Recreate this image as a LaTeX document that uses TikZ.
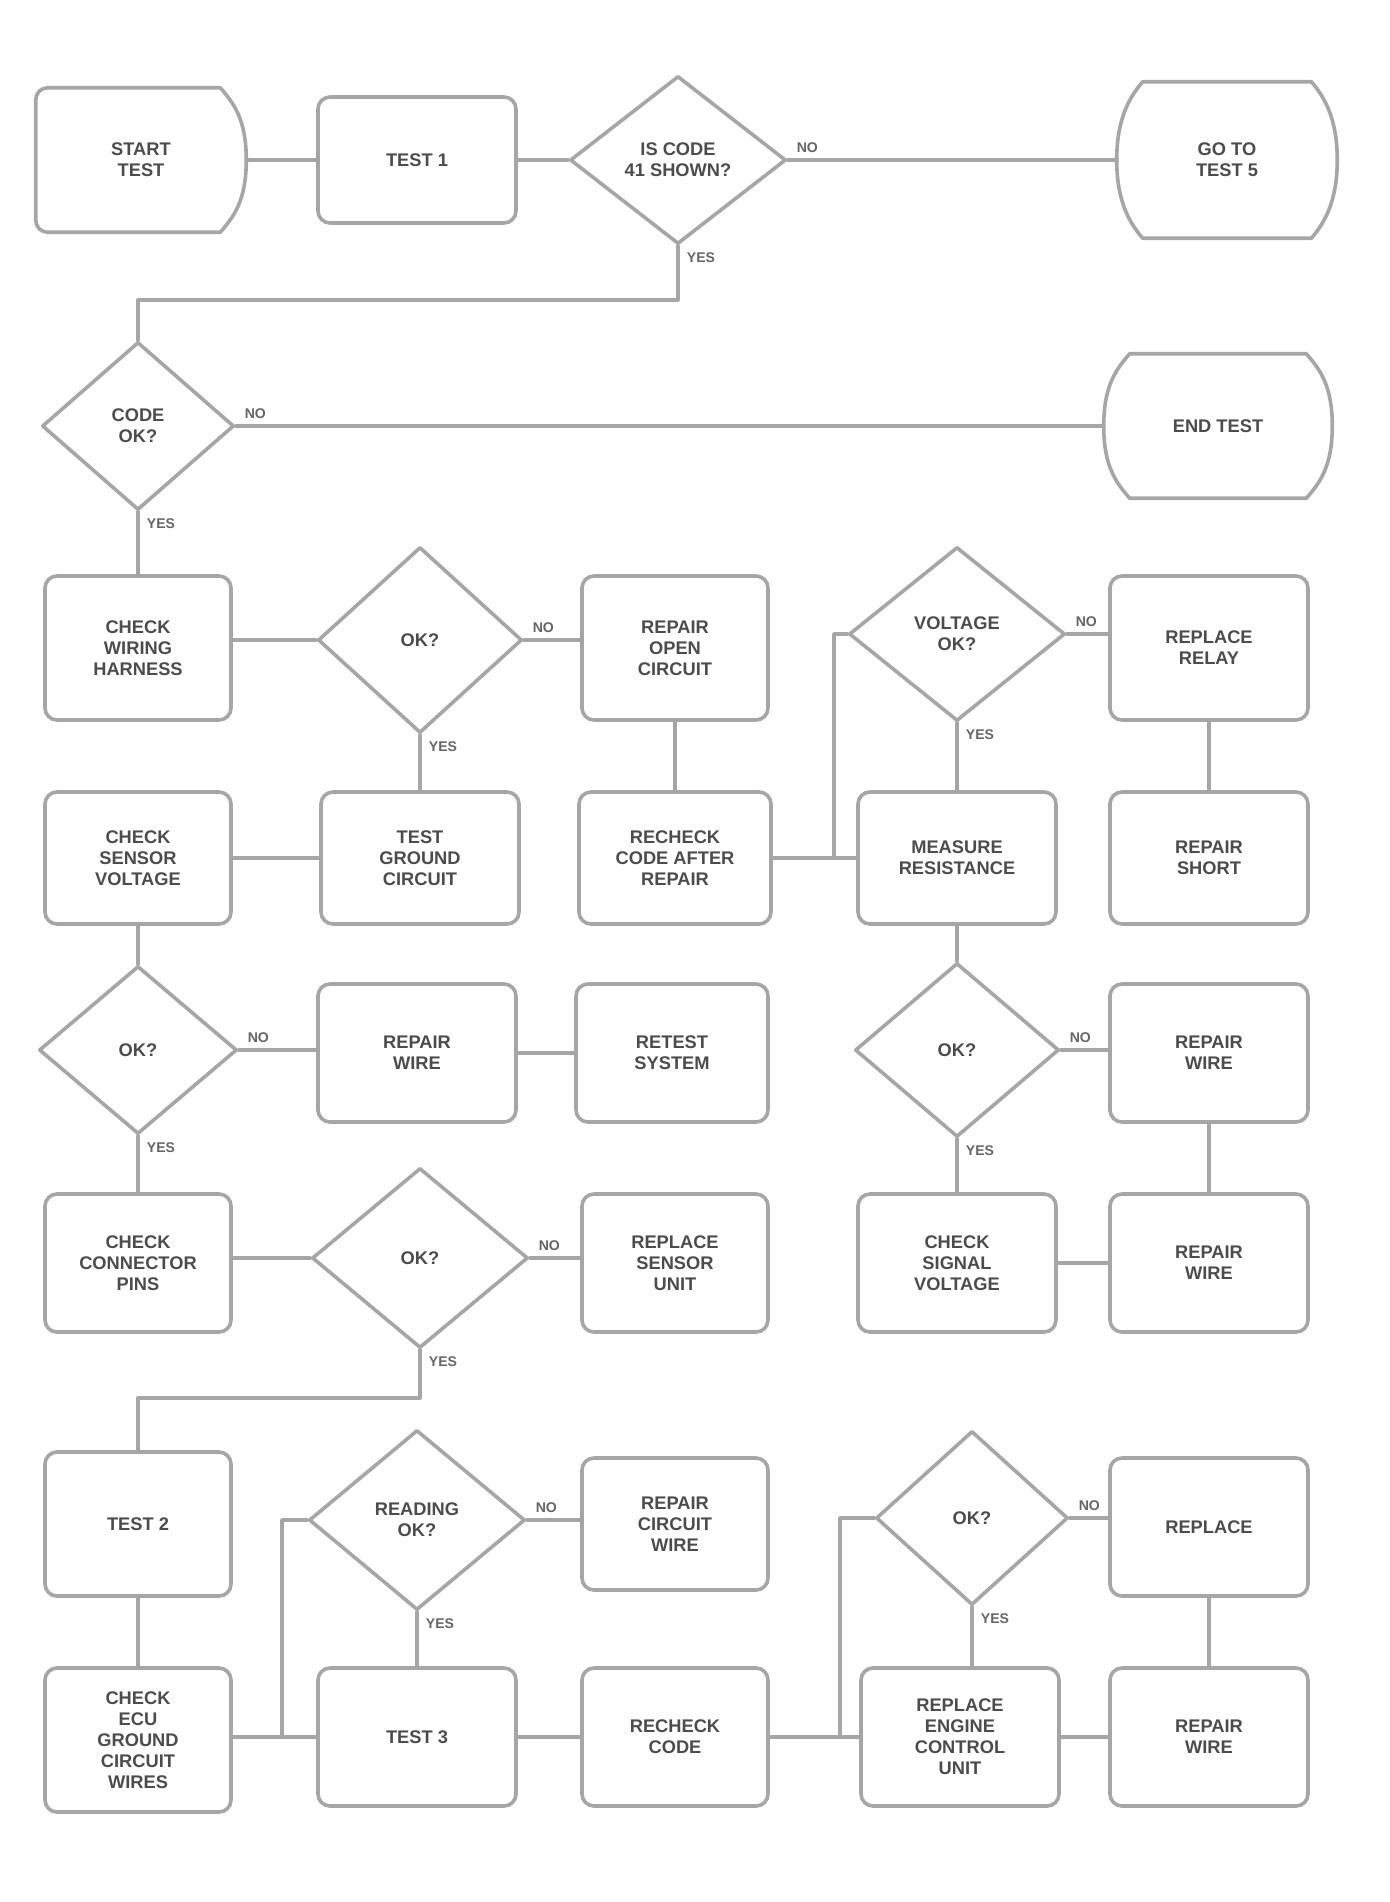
\documentclass[tikz,border=0pt]{standalone}
\usepackage{fontspec}
\setmainfont{Liberation Sans}
\usetikzlibrary{shapes.geometric,calc}
\begin{document}
\begin{tikzpicture}[x=0.025cm,y=-0.025cm,
  ln/.style={draw=black!35, line width=0.9mm, line join=round, line cap=round},
  txt/.style={text=black!70, align=center, font=\bfseries\fontsize{13}{15}\selectfont},
  rbox/.style 2 args={ln, txt, rounded corners=3mm, minimum width=#1*0.025cm, minimum height=#2*0.025cm, inner sep=2pt},
  dmd/.style 2 args={ln, txt, diamond, minimum width=#1*0.025cm, minimum height=#2*0.025cm, inner sep=0pt},
  term/.style 2 args={txt, minimum width=#1*0.025cm, minimum height=#2*0.025cm, inner sep=2pt},
  lbl/.style={text=black!60, font=\bfseries\fontsize{10}{12}\selectfont}]
\useasboundingbox (0,0) rectangle (1389,1902);

% ---- row 1
\node[term={210}{144}] (A) at (141,160) {START\\TEST};
\node[rbox={198}{126}] (B) at (417,160) {TEST 1};
\node[dmd={216}{168}] (D1) at (678,160) {IS CODE\\41 SHOWN?};
\node[term={220}{156}] (T1) at (1227,160) {GO TO\\TEST 5};
% ---- row 2
\node[dmd={192}{168}] (D2) at (138,426) {CODE\\OK?};
\node[term={228}{144}] (T2) at (1218,426) {END TEST};
% ---- row 3
\node[rbox={186}{144}] (R3a) at (138,648) {CHECK\\WIRING\\HARNESS};
\node[dmd={204}{186}] (D3a) at (420,640) {OK?};
\node[rbox={186}{144}] (R3b) at (675,648) {REPAIR\\OPEN\\CIRCUIT};
\node[dmd={216}{174}] (D3b) at (957,634) {VOLTAGE\\OK?};
\node[rbox={198}{144}] (R3c) at (1209,648) {REPLACE\\RELAY};
% ---- row 4
\node[rbox={186}{132}] (R4a) at (138,858) {CHECK\\SENSOR\\VOLTAGE};
\node[rbox={198}{132}] (R4b) at (420,858) {TEST\\GROUND\\CIRCUIT};
\node[rbox={192}{132}] (R4c) at (675,858) {RECHECK\\CODE AFTER\\REPAIR};
\node[rbox={198}{132}] (R4d) at (957,858) {MEASURE\\RESISTANCE};
\node[rbox={198}{132}] (R4e) at (1209,858) {REPAIR\\SHORT};
% ---- row 5
\node[dmd={198}{168}] (D5a) at (138,1050) {OK?};
\node[rbox={198}{138}] (R5b) at (417,1053) {REPAIR\\WIRE};
\node[rbox={192}{138}] (R5c) at (672,1053) {RETEST\\SYSTEM};
\node[dmd={204}{174}] (D5d) at (957,1050) {OK?};
\node[rbox={198}{138}] (R5e) at (1209,1053) {REPAIR\\WIRE};
% ---- row 6
\node[rbox={186}{138}] (R6a) at (138,1263) {CHECK\\CONNECTOR\\PINS};
\node[dmd={216}{180}] (D6b) at (420,1258) {OK?};
\node[rbox={186}{138}] (R6c) at (675,1263) {REPLACE\\SENSOR\\UNIT};
\node[rbox={198}{138}] (R6d) at (957,1263) {CHECK\\SIGNAL\\VOLTAGE};
\node[rbox={198}{138}] (R6e) at (1209,1263) {REPAIR\\WIRE};
% ---- row 7
\node[rbox={186}{144}] (R7a) at (138,1524) {TEST 2};
\node[dmd={216}{180}] (D7b) at (417,1520) {READING\\OK?};
\node[rbox={186}{132}] (R7c) at (675,1524) {REPAIR\\CIRCUIT\\WIRE};
\node[dmd={192}{174}] (D7d) at (972,1518) {OK?};
\node[rbox={198}{138}] (R7e) at (1209,1527) {REPLACE};
% ---- row 8
\node[rbox={186}{144}] (R8a) at (138,1740) {CHECK\\ECU\\GROUND\\CIRCUIT\\WIRES};
\node[rbox={198}{138}] (R8b) at (417,1737) {TEST 3};
\node[rbox={186}{138}] (R8c) at (675,1737) {RECHECK\\CODE};
\node[rbox={198}{138}] (R8d) at (960,1737) {REPLACE\\ENGINE\\CONTROL\\UNIT};
\node[rbox={198}{138}] (R8e) at (1209,1737) {REPAIR\\WIRE};

% junction points
\coordinate (j1) at (834,858);
\coordinate (j2) at (282,1737);
\coordinate (j3) at (840,1737);

% terminal outlines
\draw[ln] ($(A.north west)+(12,0)$) -- ($(A.north east)+(-26,0)$)
   .. controls +(14,16) and +(0,-40) .. (A.east)
   .. controls +(0,40) and +(14,-16) .. ($(A.south east)+(-26,0)$)
   -- ($(A.south west)+(12,0)$) arc[start angle=90, end angle=180, radius=12]
   -- ($(A.north west)+(0,12)$) arc[start angle=180, end angle=270, radius=12] -- cycle;
\foreach \t in {T1,T2}{
\draw[ln] ($(\t.north west)+(26,0)$) -- ($(\t.north east)+(-26,0)$)
   .. controls +(14,16) and +(0,-40) .. (\t.east)
   .. controls +(0,40) and +(14,-16) .. ($(\t.south east)+(-26,0)$)
   -- ($(\t.south west)+(26,0)$)
   .. controls +(-14,-16) and +(0,40) .. (\t.west)
   .. controls +(0,-40) and +(-14,16) .. cycle;
}

% connectors
\draw[ln] (A.east) -- (B.west);
\draw[ln] (B.east) -- (D1.west);
\draw[ln] (D1.east) -- (T1.west);
\draw[ln] (D1.south) -- ++(0,54) -| (D2.north);
\draw[ln] (D2.east) -- (T2.west);
\draw[ln] (D2.south) -- (R3a.north);
\draw[ln] (R3a.east |- D3a.west) -- (D3a.west);
\draw[ln] (D3a.east) -- (D3a.east -| R3b.west);
\draw[ln] (D3a.south) -- (R4b.north);
\draw[ln] (R3b.south) -- (R4c.north);
\draw[ln] (R4a.east) -- (R4b.west);
\draw[ln] (R4c.east) -- (R4d.west);
\draw[ln] (D3b.west) -| (j1);
\draw[ln] (D3b.east) -- (D3b.east -| R3c.west);
\draw[ln] (D3b.south) -- (R4d.north);
\draw[ln] (R3c.south) -- (R4e.north);
\draw[ln] (R4a.south) -- (D5a.north);
\draw[ln] (D5a.east) -- (D5a.east -| R5b.west);
\draw[ln] (R5b.east) -- (R5c.west);
\draw[ln] (D5a.south) -- (R6a.north);
\draw[ln] (R4d.south) -- (D5d.north);
\draw[ln] (D5d.east) -- (D5d.east -| R5e.west);
\draw[ln] (D5d.south) -- (R6d.north);
\draw[ln] (R5e.south) -- (R6e.north);
\draw[ln] (R6a.east |- D6b.west) -- (D6b.west);
\draw[ln] (D6b.east) -- (D6b.east -| R6c.west);
\draw[ln] (R6d.east) -- (R6e.west);
\draw[ln] (D6b.south) -- ++(0,48) -| (R7a.north);
\draw[ln] (R7a.south) -- (R8a.north);
\draw[ln] (R8a.east |- R8b.west) -- (R8b.west);
\draw[ln] (D7b.west) -| (j2);
\draw[ln] (D7b.east) -- (D7b.east -| R7c.west);
\draw[ln] (D7b.south) -- (R8b.north);
\draw[ln] (R8b.east) -- (R8c.west);
\draw[ln] (R8c.east) -- (R8d.west);
\draw[ln] (D7d.west) -| (j3);
\draw[ln] (D7d.east) -- (D7d.east -| R7e.west);
\draw[ln] (D7d.south) -- (D7d.south |- R8d.north);
\draw[ln] (R7e.south) -- (R8e.north);
\draw[ln] (R8d.east) -- (R8e.west);

% yes / no labels
\foreach \d in {D1,D2,D3a,D3b,D5a,D5d,D6b,D7b,D7d}{
  \node[lbl, anchor=south west] at ($(\d.east)+(4,-2)$) {NO};
  \node[lbl, anchor=north west] at ($(\d.south)+(4,2)$) {YES};
}
\end{tikzpicture}
\end{document}
